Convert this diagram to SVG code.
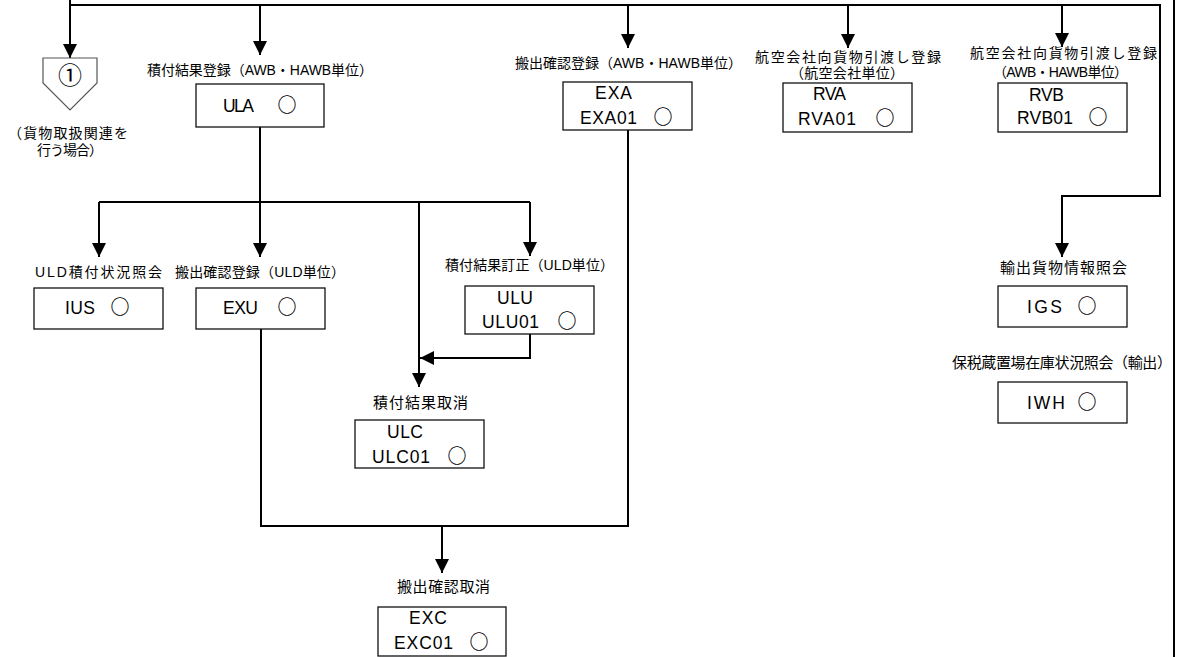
<svg xmlns="http://www.w3.org/2000/svg" width="1177" height="657" viewBox="0 0 1177 657">
<style>
.lbl{font-family:"Liberation Sans","Noto Sans CJK JP",sans-serif;font-size:14px;fill:#000}
.lbk{font-family:"Liberation Sans","Noto Sans CJK JP",sans-serif;font-size:15px;fill:#000}
.code{font-family:"Liberation Sans","Noto Sans CJK JP",sans-serif;font-size:17.5px;fill:#000}
.mk{font-family:"Noto Sans CJK JP",sans-serif;font-size:19px;font-weight:700;fill:#000;text-anchor:middle}
.box{fill:#fff;stroke:#111;stroke-width:1.3}
.conn{fill:none;stroke:#000;stroke-width:2}
</style>
<defs>
<marker id="arr" markerUnits="userSpaceOnUse" markerWidth="14" markerHeight="14" refX="14" refY="7" orient="auto">
<path d="M0,0 L14,7 L0,14 z" fill="#000"/>
</marker>
</defs>
<rect width="1177" height="657" fill="#fff"/>

<g id="connectors" class="conn">
<path d="M70,0 V58" marker-end="url(#arr)"/>
<path d="M70,5 H1160 V196 H1062 V257" marker-end="url(#arr)"/>
<path d="M260,5 V55" marker-end="url(#arr)"/>
<path d="M628,5 V48" marker-end="url(#arr)"/>
<path d="M848,5 V48" marker-end="url(#arr)"/>
<path d="M1062,5 V47" marker-end="url(#arr)"/>
<path d="M260,127 V257" marker-end="url(#arr)"/>
<path d="M99,202 H530"/>
<path d="M99,202 V257" marker-end="url(#arr)"/>
<path d="M530,202 V256" marker-end="url(#arr)"/>
<path d="M419,202 V387" marker-end="url(#arr)"/>
<path d="M530,334 V358 H420" marker-end="url(#arr)"/>
<path d="M261,329 V526 H628 V130"/>
<path d="M442,526 V573" marker-end="url(#arr)"/>
<path d="M1174,0 V657"/>
</g>

<g id="n-circle1">
<polygon points="43,58 97,58 97,83 70,110 43,83" fill="#fff" stroke="#555" stroke-width="1.2"/>
<text x="70" y="84" style="font-family:'Noto Sans CJK JP',sans-serif;font-size:24px;text-anchor:middle;fill:#000">①</text>
<text class="lbl" x="8" y="138" textLength="120" lengthAdjust="spacing">（貨物取扱関連を</text>
<text class="lbl" x="37" y="155" textLength="66" lengthAdjust="spacing">行う場合）</text>
</g>

<g id="n-ULA">
<text class="lbl" x="147" y="75" textLength="226" lengthAdjust="spacing">積付結果登録（AWB・HAWB単位）</text>
<rect class="box" x="196" y="84" width="128" height="43"/>
<text class="code" x="223" y="112" textLength="31" lengthAdjust="spacing">ULA</text>
<text class="mk" x="287" y="112">○</text>
</g>

<g id="n-EXA">
<text class="lbl" x="515" y="68" textLength="227" lengthAdjust="spacing">搬出確認登録（AWB・HAWB単位）</text>
<rect class="box" x="563" y="82" width="129" height="48"/>
<text class="code" x="595" y="99" textLength="37" lengthAdjust="spacing">EXA</text>
<text class="code" x="580" y="124" textLength="57" lengthAdjust="spacing">EXA01</text>
<text class="mk" x="663" y="124">○</text>
</g>

<g id="n-RVA">
<text class="lbl" x="755" y="62" textLength="186" lengthAdjust="spacing">航空会社向貨物引渡し登録</text>
<text class="lbl" x="790" y="78" textLength="114" lengthAdjust="spacing">（航空会社単位）</text>
<rect class="box" x="783" y="83" width="129" height="49"/>
<text class="code" x="813" y="100" textLength="33" lengthAdjust="spacing">RVA</text>
<text class="code" x="798" y="125" textLength="58" lengthAdjust="spacing">RVA01</text>
<text class="mk" x="885" y="125">○</text>
</g>

<g id="n-RVB">
<text class="lbl" x="970" y="58" textLength="187" lengthAdjust="spacing">航空会社向貨物引渡し登録</text>
<text class="lbl" x="993" y="77" textLength="135" lengthAdjust="spacing">（AWB・HAWB単位）</text>
<rect class="box" x="998" y="83" width="129" height="49"/>
<text class="code" x="1029" y="101" textLength="35" lengthAdjust="spacing">RVB</text>
<text class="code" x="1017" y="124" textLength="56" lengthAdjust="spacing">RVB01</text>
<text class="mk" x="1098" y="124">○</text>
</g>

<g id="n-IUS">
<text class="lbl" x="35" y="277" textLength="127" lengthAdjust="spacing">ULD積付状況照会</text>
<rect class="box" x="34" y="288" width="129" height="41"/>
<text class="code" x="65" y="314" textLength="30" lengthAdjust="spacing">IUS</text>
<text class="mk" x="120" y="314">○</text>
</g>

<g id="n-EXU">
<text class="lbl" x="175" y="277" textLength="170" lengthAdjust="spacing">搬出確認登録（ULD単位）</text>
<rect class="box" x="196" y="288" width="129" height="41"/>
<text class="code" x="223" y="314" textLength="35" lengthAdjust="spacing">EXU</text>
<text class="mk" x="287" y="314">○</text>
</g>

<g id="n-ULU">
<text class="lbl" x="445" y="270" textLength="169" lengthAdjust="spacing">積付結果訂正（ULD単位）</text>
<rect class="box" x="465" y="286" width="129" height="48"/>
<text class="code" x="497" y="304" textLength="36" lengthAdjust="spacing">ULU</text>
<text class="code" x="482" y="328" textLength="57" lengthAdjust="spacing">ULU01</text>
<text class="mk" x="567" y="328">○</text>
</g>

<g id="n-ULC">
<text class="lbk" x="373" y="408" textLength="95" lengthAdjust="spacing">積付結果取消</text>
<rect class="box" x="355" y="420" width="129" height="48"/>
<text class="code" x="387" y="438" textLength="36" lengthAdjust="spacing">ULC</text>
<text class="code" x="372" y="463" textLength="58" lengthAdjust="spacing">ULC01</text>
<text class="mk" x="457" y="463">○</text>
</g>

<g id="n-EXC">
<text class="lbk" x="397" y="592" textLength="93" lengthAdjust="spacing">搬出確認取消</text>
<rect class="box" x="378" y="607" width="128" height="49"/>
<text class="code" x="409" y="624" textLength="38" lengthAdjust="spacing">EXC</text>
<text class="code" x="394" y="649" textLength="59" lengthAdjust="spacing">EXC01</text>
<text class="mk" x="479" y="649">○</text>
</g>

<g id="n-IGS">
<text class="lbk" x="1000" y="273" textLength="127" lengthAdjust="spacing">輸出貨物情報照会</text>
<rect class="box" x="998" y="286" width="129" height="41"/>
<text class="code" x="1027" y="313" textLength="35" lengthAdjust="spacing">IGS</text>
<text class="mk" x="1087" y="313">○</text>
</g>

<g id="n-IWH">
<text class="lbk" x="952" y="368" textLength="220" lengthAdjust="spacing">保税蔵置場在庫状況照会（輸出）</text>
<rect class="box" x="998" y="382" width="129" height="41"/>
<text class="code" x="1027" y="409" textLength="38" lengthAdjust="spacing">IWH</text>
<text class="mk" x="1087" y="409">○</text>
</g>
</svg>
